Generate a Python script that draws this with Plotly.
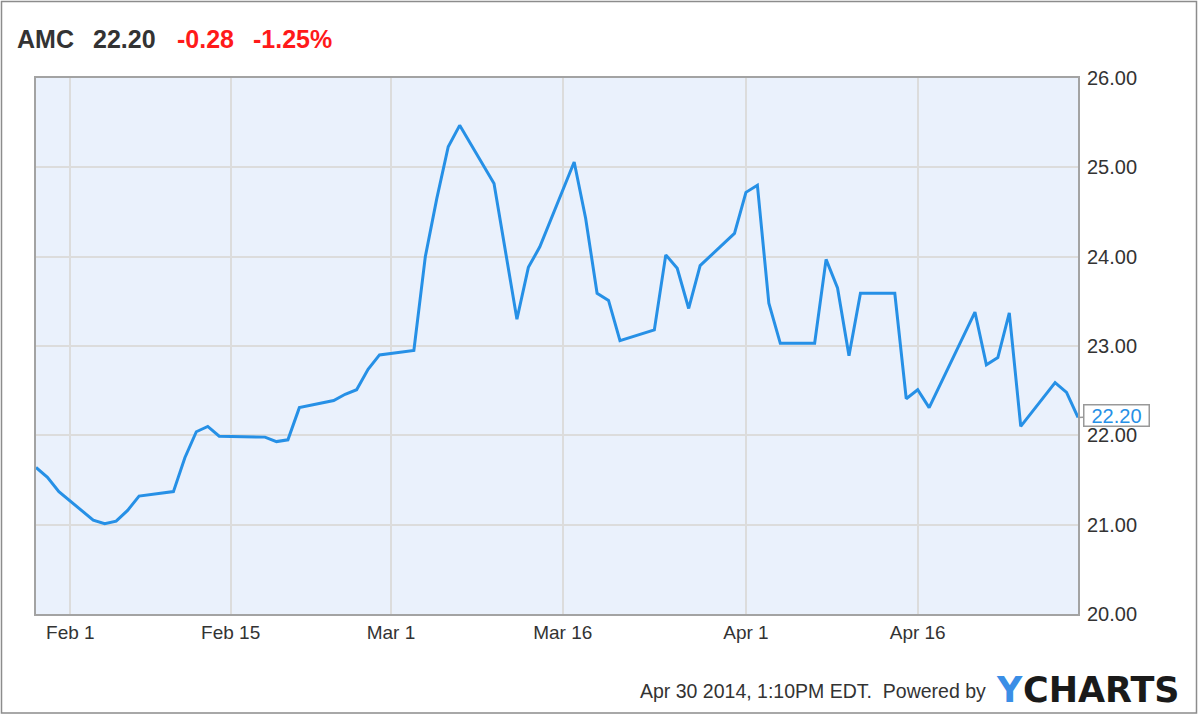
import plotly.graph_objects as go

# ---- data ----
dates = [
    "2014-01-29", "2014-01-30", "2014-01-31",
    "2014-02-03", "2014-02-04", "2014-02-05", "2014-02-06", "2014-02-07",
    "2014-02-10", "2014-02-11", "2014-02-12", "2014-02-13", "2014-02-14",
    "2014-02-18", "2014-02-19", "2014-02-20", "2014-02-21",
    "2014-02-24", "2014-02-25", "2014-02-26", "2014-02-27", "2014-02-28",
    "2014-03-03", "2014-03-04", "2014-03-05", "2014-03-06", "2014-03-07",
    "2014-03-10", "2014-03-12", "2014-03-13", "2014-03-14",
    "2014-03-17", "2014-03-18", "2014-03-19", "2014-03-20", "2014-03-21",
    "2014-03-24", "2014-03-25", "2014-03-26", "2014-03-27", "2014-03-28",
    "2014-03-31", "2014-04-01", "2014-04-02", "2014-04-03", "2014-04-04",
    "2014-04-07", "2014-04-08", "2014-04-09", "2014-04-10", "2014-04-11",
    "2014-04-14", "2014-04-15", "2014-04-16", "2014-04-17",
    "2014-04-21", "2014-04-22", "2014-04-23", "2014-04-24", "2014-04-25",
    "2014-04-28", "2014-04-29", "2014-04-30",
]
prices = [
    21.64, 21.53, 21.37,
    21.05, 21.01, 21.04, 21.16, 21.32,
    21.37, 21.75, 22.04, 22.10, 21.99,
    21.98, 21.93, 21.95, 22.31,
    22.39, 22.46, 22.51, 22.74, 22.90,
    22.95, 24.00, 24.65, 25.23, 25.47,
    24.82, 23.30, 23.88, 24.11,
    25.06, 24.43, 23.59, 23.51, 23.06,
    23.18, 24.02, 23.87, 23.42, 23.90,
    24.26, 24.72, 24.80, 23.48, 23.03,
    23.03, 23.97, 23.65, 22.89, 23.59,
    23.59, 22.41, 22.51, 22.31,
    23.38, 22.79, 22.87, 23.37, 22.10,
    22.59, 22.48, 22.20,
]
x_tick_vals = ["2014-02-01", "2014-02-15", "2014-03-01", "2014-03-16", "2014-04-01", "2014-04-16"]
x_tick_text = ["Feb 1", "Feb 15", "Mar 1", "Mar 16", "Apr 1", "Apr 16"]
y_tick_vals = [20, 21, 22, 23, 24, 25, 26]
ticker = "AMC"
last_price = "22.20"
change = "-0.28"
change_pct = "-1.25%"
footer = "Apr 30 2014, 1:10PM EDT.  Powered by"

# ---- style ----
FONT = "Liberation Sans, Arial, sans-serif"
LINE_BLUE = "#2690e6"
GRID = "#dcdcdc"
BORDER = "#a3a3a3"
TEXT = "#333333"
RED = "#ff1a1a"

fig = go.Figure()
fig.add_trace(go.Scatter(
    x=dates, y=prices, mode="lines",
    line=dict(color=LINE_BLUE, width=3),
    hoverinfo="skip", showlegend=False, cliponaxis=False,
))

fig.update_layout(
    width=1200, height=716,
    margin=dict(l=36, r=122, t=78, b=102),
    paper_bgcolor="white",
    plot_bgcolor="#eaf1fc",
    font=dict(family=FONT, size=20, color=TEXT),
    showlegend=False,
)
fig.update_xaxes(
    type="date",
    range=["2014-01-29", "2014-04-30"],
    tickvals=x_tick_vals, ticktext=x_tick_text,
    showgrid=True, gridcolor=GRID, gridwidth=2,
    showline=True, linecolor=BORDER, linewidth=2, mirror=True,
    ticks="", zeroline=False,
    tickfont=dict(family=FONT, size=19, color=TEXT),
)
fig.update_yaxes(
    range=[20, 26], side="right",
    tickvals=y_tick_vals, tickformat=".2f",
    showgrid=True, gridcolor=GRID, gridwidth=2,
    showline=True, linecolor=BORDER, linewidth=2, mirror=True,
    ticks="", zeroline=False, ticklabelstandoff=3,
    tickfont=dict(family=FONT, size=20, color=TEXT),
)

# title pieces
title_parts = [
    (ticker, TEXT, 15),
    (last_price, TEXT, 91),
    (change, RED, 175),
    (change_pct, RED, 251),
]
for txt, col, px in title_parts:
    fig.add_annotation(
        xref="paper", yref="paper",
        x=(px - 36) / 1042, y=(614 - 39) / 536,
        xanchor="left", yanchor="middle",
        text="<b>" + txt + "</b>", showarrow=False,
        font=dict(family=FONT, size=25, color=col),
    )

# last-price callout
fig.add_annotation(
    x=dates[-1], y=prices[-1],
    text=last_price, showarrow=True,
    ax=38, ay=-2, arrowhead=0, arrowcolor="#999999", arrowwidth=1.5,
    width=62, height=18, align="center",
    bgcolor="white", bordercolor="#999999", borderwidth=1.5, borderpad=1,
    font=dict(family=FONT, size=20, color=LINE_BLUE),
)

# footer
fig.add_annotation(
    xref="paper", yref="paper",
    x=(988 - 36) / 1042, y=(614 - 691) / 536,
    xanchor="right", yanchor="middle",
    text=footer, showarrow=False,
    font=dict(family=FONT, size=19.5, color=TEXT),
)
fig.add_annotation(
    xref="paper", yref="paper",
    x=(994 - 36) / 1042, y=(614 - 690) / 536,
    xanchor="left", yanchor="middle",
    text="<b>Y</b>", showarrow=False,
    font=dict(family="DejaVu Sans", size=35, color="#3a8ee6"),
)
fig.add_annotation(
    xref="paper", yref="paper",
    x=(1021 - 36) / 1042, y=(614 - 690) / 536,
    xanchor="left", yanchor="middle",
    text="<b>CHARTS</b>", showarrow=False,
    font=dict(family="DejaVu Sans", size=35, color="#1a1a1a"),
)

# outer frame
fig.add_shape(
    type="rect", xref="paper", yref="paper",
    x0=(1.5 - 36) / 1042, x1=(1196.5 - 36) / 1042,
    y0=(614 - 713) / 536, y1=(614 - 1.5) / 536,
    line=dict(color="#8c8c8c", width=1.5), fillcolor="rgba(0,0,0,0)",
    layer="below",
)

fig.write_html(
    "out.html",
    config={"displayModeBar": False},
    post_script="document.body.style.margin='0';document.body.style.overflow='hidden';",
)
